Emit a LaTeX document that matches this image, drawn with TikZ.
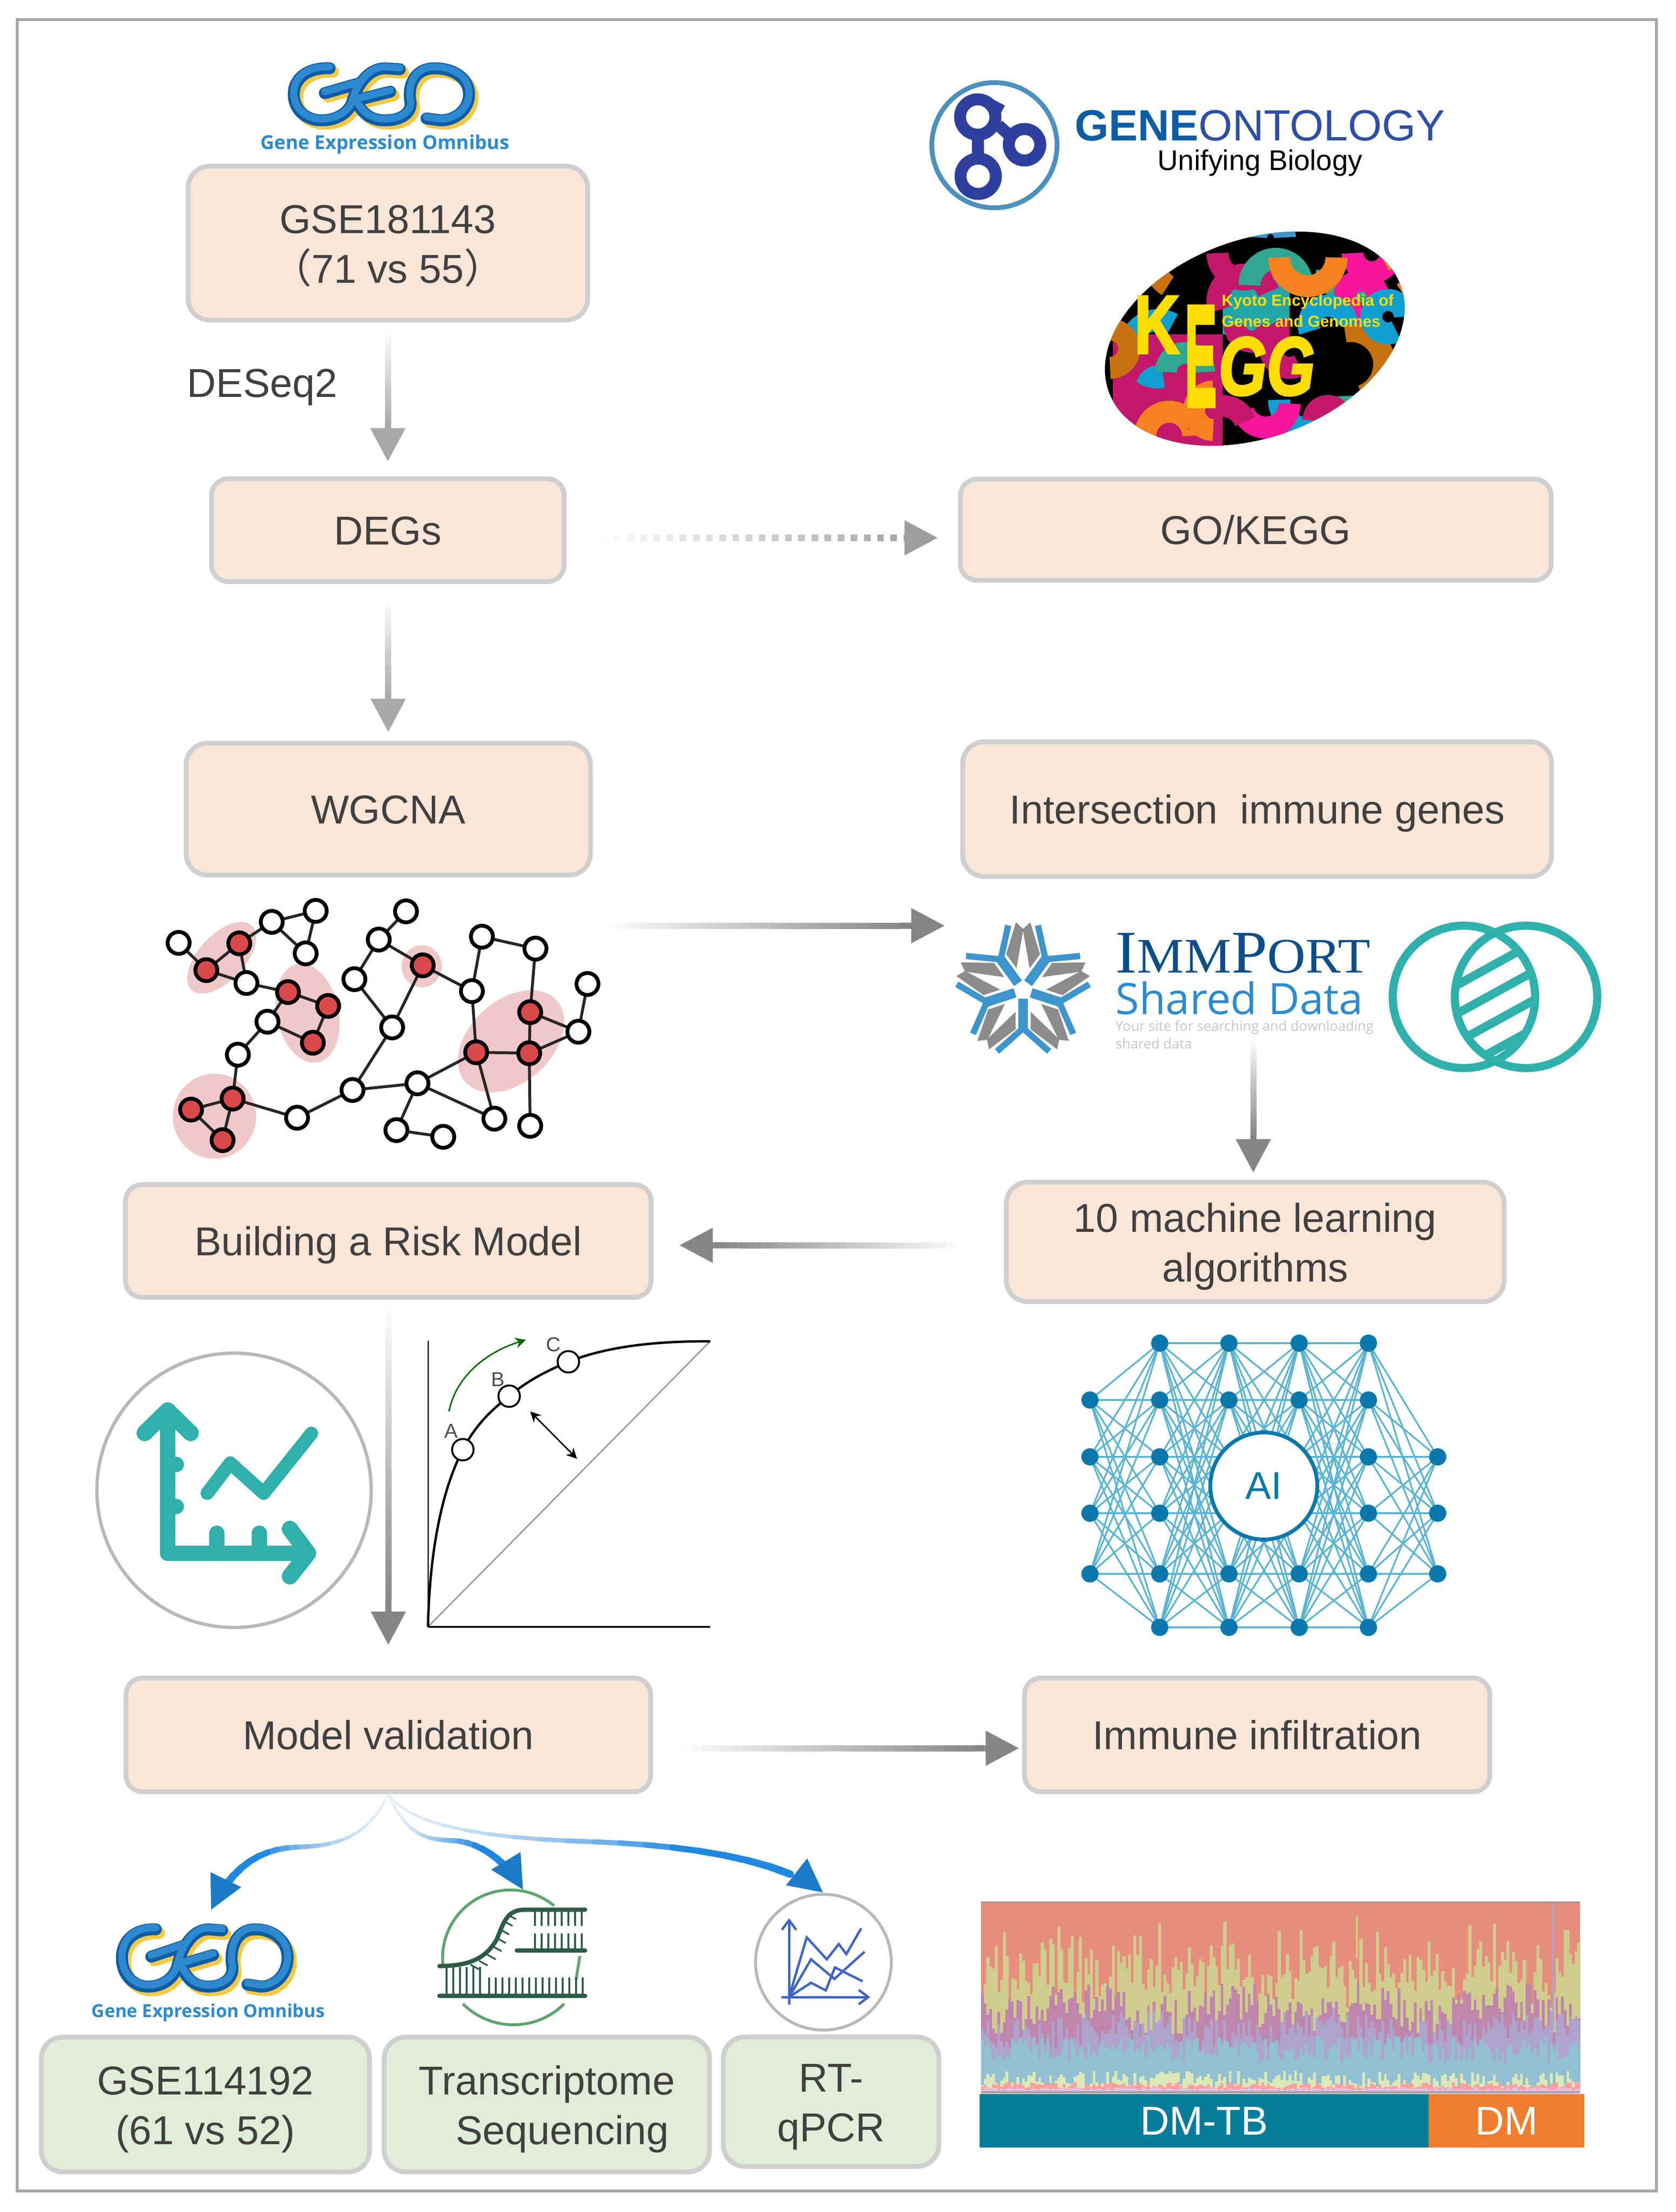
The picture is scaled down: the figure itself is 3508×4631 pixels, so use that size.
\documentclass[tikz,border=0pt]{standalone}
\usepackage{fontspec}
\setmainfont{Liberation Sans}
\newfontfamily\cjk{Noto Sans CJK SC}
\newfontfamily\serifname{Liberation Serif}
\newfontfamily\opensans{Open Sans}
\newfontfamily\fatsans[FakeBold=3]{Liberation Sans}
\usetikzlibrary{arrows.meta,calc,shapes.geometric}

\definecolor{boxline}{HTML}{CFCFCF}
\definecolor{peach}{HTML}{FAE6D8}
\definecolor{leaf}{HTML}{E2EDD8}
\definecolor{ink}{HTML}{404040}
\definecolor{arrowgray}{HTML}{A8A8A8}
\definecolor{arrowdark}{HTML}{858585}
\definecolor{teal}{HTML}{2FB0AC}
\definecolor{paleblue}{HTML}{E4EEF8}
\definecolor{arcblue}{HTML}{1E88E0}
\definecolor{netdark}{HTML}{0A78AC}
\definecolor{netline}{HTML}{5BB3D2}
\definecolor{hub}{HTML}{D9494A}
\definecolor{blob}{HTML}{F0C8C8}
\definecolor{geoblue}{HTML}{0E5CA3}
\definecolor{geolight}{HTML}{2D8ACF}
\definecolor{geoyellow}{HTML}{F6C843}
\definecolor{gotext}{HTML}{2F4EA5}
\definecolor{godark}{HTML}{2F3F9E}
\definecolor{kmag}{HTML}{C2186B}
\definecolor{korange}{HTML}{F58220}
\definecolor{kteal}{HTML}{2FA88F}
\definecolor{kbrown}{HTML}{C8720F}
\definecolor{kcyan}{HTML}{0FA0D0}
\definecolor{kpink}{HTML}{F5169B}
\definecolor{kyellow}{HTML}{FFDD00}
\definecolor{fork}{HTML}{3E95CC}
\definecolor{rnagreen}{HTML}{5DA56D}
\definecolor{rnadark}{HTML}{2B5C47}
\definecolor{pcrblue}{HTML}{3F66C4}
\definecolor{stA}{HTML}{E58E7C}
\definecolor{stB}{HTML}{D0CC8E}
\definecolor{stC}{HTML}{BF86AC}
\definecolor{stD}{HTML}{AEA3CC}
\definecolor{stE}{HTML}{90C0D2}
\definecolor{stF}{HTML}{DCE8B5}
\definecolor{stG}{HTML}{FFA0A0}
\definecolor{stH}{HTML}{E0C0E8}
\definecolor{tbbar}{HTML}{077D9B}
\definecolor{dmbar}{HTML}{EE7D2E}

\tikzset{
  box/.style={draw=boxline,line width=1mm,rounded corners=4.5mm,align=center,inner sep=0,text=ink,
    font=\fontsize{24}{30}\selectfont,execute at begin node=\rule[-5pt]{0pt}{27.4pt}},
  twoline/.style={font=\fontsize{24}{29.5}\selectfont,execute at begin node=\rule[-5pt]{0pt}{57.3pt}},
  peachbox/.style={box,fill=peach},
  leafbox/.style={box,fill=leaf},
  grayhead/.style={-{Triangle[length=7mm,width=7mm]},line width=1.3mm},
  netnode/.style={circle,fill=netdark,minimum size=3.6mm,inner sep=0},
  plainnode/.style={circle,draw=black,fill=white,line width=.8mm,minimum size=4.6mm,inner sep=0},
  rednode/.style={plainnode,fill=hub},
  geologo/.pic={
    \foreach \col/\wd/\dx/\dy in {geoyellow/2.5mm/7/7,geoblue/2.5mm/0/0,geolight/1.5mm/0/-3}{
      \begin{scope}[shift={(\dx,\dy)}]
      \draw[\col,line width=\wd,line cap=round] (88,12) .. controls (40,10) and (13,35) .. (13,66)
        .. controls (13,100) and (40,121) .. (71,121) .. controls (100,121) and (125,108) .. (135,85)
        .. controls (142,55) and (165,12) .. (205,12) -- (235,14);
      \draw[\col,line width=\wd,line cap=round] (78,64) -- (148,44);
      \draw[\col,line width=\wd,line cap=round] (151,77) -- (215,61);
      \draw[\col,line width=\wd,line cap=round] (148,89) .. controls (160,108) and (175,121) .. (205,121)
        .. controls (235,121) and (258,108) .. (258,85) .. controls (250,50) and (265,12) .. (308,12)
        .. controls (350,12) and (380,35) .. (380,66) .. controls (380,100) and (350,121) .. (321,121) -- (291,117);
      \end{scope}
    }
  },
}

\newcommand{\fadearrow}[3][arrowgray]{
  \coordinate (fs) at (#2);
  \coordinate (fe) at (#3);
  \coordinate (ft) at ($(fe)!7.2mm!(fs)$);
  \foreach \i in {1,...,30}{
    \pgfmathtruncatemacro\pct{\i*100/30}
    \draw[line width=1.3mm,#1!\pct!white] ($(fs)!{(\i-1)/30}!(ft)$) -- ($(fs)!{\i/30}!(ft)$);
  }
  \draw[grayhead,#1] (ft) -- (fe);
}
\newcommand{\dotarrow}[2]{
  \coordinate (fs) at (#1);
  \coordinate (fe) at (#2);
  \coordinate (ft) at ($(fe)!7.2mm!(fs)$);
  \foreach \i in {1,...,23}{
    \pgfmathtruncatemacro\pct{\i*100/23}
    \draw[line width=1.4mm,arrowgray!\pct!white] ($(fs)!{(\i-1)/23}!(ft)$) -- ($(fs)!{(\i-.5)/23}!(ft)$);
  }
  \draw[grayhead,arrowdark!80!white] (ft) -- (fe);
}
% #1 start, #2 #3 controls, #4 middle, #5 #6 controls, #7 tip
\newcommand{\bluearrow}[7]{
  \coordinate (ba) at (#1);
  \coordinate (bm) at (#4);
  \coordinate (bz) at (#7);
  \path (ba) .. controls (#2) and (#3) .. (bm)
    coordinate[pos=0] (q0) coordinate[pos=.1] (q1) coordinate[pos=.2] (q2) coordinate[pos=.3] (q3)
    coordinate[pos=.4] (q4) coordinate[pos=.5] (q5) coordinate[pos=.6] (q6) coordinate[pos=.7] (q7)
    coordinate[pos=.8] (q8) coordinate[pos=.9] (q9) coordinate[pos=1] (q10);
  \path (bm) .. controls (#5) and (#6) .. (bz)
    coordinate[pos=.1] (q11) coordinate[pos=.2] (q12) coordinate[pos=.3] (q13) coordinate[pos=.4] (q14)
    coordinate[pos=.5] (q15) coordinate[pos=.6] (q16) coordinate[pos=.7] (q17) coordinate[pos=.8] (q18);
  \foreach \i in {1,...,18}{
    \pgfmathtruncatemacro\j{\i-1}
    \pgfmathtruncatemacro\pct{min(100,\i*\i/2)}
    \pgfmathsetmacro\wd{.3+\i*.07}
    \draw[line width=\wd mm,line cap=round,arcblue!\pct!paleblue] (q\j) -- (q\i);
  }
  \coordinate (bt) at ($(bz)!7mm!(#6)$);
  \draw[arcblue!90!black,-{Triangle[length=7mm,width=7mm]},line width=.6mm] (bt) -- (bz);
}

\begin{document}
\begin{tikzpicture}[x=.01cm,y=-.01cm]
    \useasboundingbox (0,0) rectangle (3508,4631);
    \draw[arrowgray,line width=.6mm] (36,41) rectangle (3468,4587);

    \node[peachbox,twoline,minimum width=83.6mm,minimum height=32.2mm] (GSE) at (812,509) {GSE181143\\{\cjk（}71 vs 55{\cjk）}};
    \node[peachbox,minimum width=73.8mm,minimum height=21.5mm,rounded corners=3.5mm] (DEGs) at (812,1110) {DEGs};
    \node[peachbox,minimum width=123.6mm,minimum height=21.2mm,rounded corners=3.5mm] (GOKEGG) at (2629,1109) {GO/KEGG};
    \node[peachbox,minimum width=84.6mm,minimum height=27.6mm] (WGCNA) at (813,1694) {WGCNA};
    \node[peachbox,minimum width=123.2mm,minimum height=28.2mm] (Inter) at (2632,1694) {Intersection\ \ immune genes};
    \node[peachbox,minimum width=110mm,minimum height=23.6mm,rounded corners=3.5mm] (Risk) at (813,2598) {Building a Risk Model};
    \node[peachbox,twoline,minimum width=104.2mm,minimum height=25mm] (ML) at (2628,2600) {10 machine learning\\algorithms};
    \node[peachbox,minimum width=109.8mm,minimum height=23.8mm,rounded corners=3.5mm] (Valid) at (813,3632) {Model validation};
    \node[peachbox,minimum width=97.4mm,minimum height=23.8mm,rounded corners=3.5mm] (Immune) at (2632,3632) {Immune infiltration};
    \node[leafbox,twoline,minimum width=68.7mm,minimum height=28.2mm] (GSEb) at (430,4406) {GSE114192\\(61 vs 52)};
    \node[leafbox,twoline,align=right,minimum width=68.1mm,minimum height=28.2mm] (Trans) at (1145,4406) {Transcriptome\\Sequencing\hspace*{3.7pt}};
    \node[leafbox,twoline,minimum width=45.1mm,minimum height=27.1mm] (RT) at (1740,4400) {RT-\\qPCR};
    \node[text=ink,font=\fontsize{24}{30}\selectfont,inner sep=0] (Tool) at (549,811) {DESeq2};

    \coordinate (NetOut) at (1271,1938);
    \coordinate (ImmIn) at (1978,1938);
    \coordinate (LogoOut) at (2624,2175);
    \coordinate (MLIn) at (2624,2455);

    \fadearrow{[yshift=-2mm]GSE.south}{[yshift=3.1mm]DEGs.north}
    \fadearrow{[yshift=-3.5mm]DEGs.south}{[yshift=1.8mm]WGCNA.north}
    \dotarrow{[xshift=7.2mm,yshift=-1.6mm]DEGs.east}{[xshift=-4.2mm,yshift=-1.7mm]GOKEGG.west}
    \fadearrow[arrowdark]{NetOut}{ImmIn}
    \fadearrow[arrowdark]{LogoOut}{MLIn}
    \fadearrow[arrowdark]{[xshift=-8.6mm,yshift=-.8mm]ML.west}{[xshift=5.4mm,yshift=-.9mm]Risk.east}
    \fadearrow[arrowdark]{[yshift=-1.9mm]Risk.south}{[yshift=6.4mm]Valid.north}
    \fadearrow[arrowdark]{[xshift=5.9mm,yshift=-2.8mm]Valid.east}{[xshift=-.6mm,yshift=-2.8mm]Immune.west}

    \bluearrow{Valid.south}{770,3850}{700,3865}{622,3867}{550,3870}{490,3900}{442,3998}
    \bluearrow{Valid.south}{850,3840}{890,3852}{945,3853}{1000,3855}{1055,3889}{1095,3956}
    \bluearrow{Valid.south}{860,3830}{1050,3850}{1244,3856}{1420,3862}{1630,3889}{1723,3962}

    % top logos
    \pic at (602,131) {geologo};
    \node[text=geolight,font=\opensans\bfseries\fontsize{11.4}{14}\selectfont,inner sep=0] (GeoName) at (806,302) {Gene Expression Omnibus};
    \pic[xscale=.945,yscale=1.1] at (243,4026) {geologo};
    \node[text=geolight,font=\opensans\bfseries\fontsize{10.7}{14}\selectfont,inner sep=0] (GeoNameb) at (436,4214) {Gene Expression Omnibus};

    \node[circle,draw=fork!80!gray,line width=1mm,minimum size=26.2mm,inner sep=0] (GoRing) at (2082,304) {};
    \draw[godark,line width=2.5mm] (2047,245) circle[radius=3.7mm] (2048,369) circle[radius=3.7mm] (2145,303) circle[radius=3.3mm];
    \draw[godark,line width=2.5mm] (2047,282) -- (2048,332) (2075,220) -- (2098,232) (2090,262) -- (2112,282);
    \node[inner sep=0,font=\fontsize{26}{30}\selectfont] (GoName) at (2638,263) {\textcolor{geoblue}{\textbf{GENE}}\textcolor{gotext}{ONTOLOGY}};
    \node[inner sep=0,font=\fontsize{17}{20}\selectfont] (GoSub) at (2638,341) {Unifying Biology};

    \begin{scope}
      \clip (2627,709) ellipse[x radius=32.5mm,y radius=20.7mm,rotate=20];
      \fill[black] (2300,470) rectangle (2960,950);
      \fill[kmag] (2330,700) rectangle (2560,940);
      \fill[kteal!60!kcyan] (2560,560) rectangle (2700,700);
      \foreach \cx/\cy/\r/\sa/\ea/\col in {2604/530/5.5/180/340/kmag,2604/630/5.5/20/200/kmag,2660/497/3/0/180/fork,
        2671/597/5.5/0/180/kteal,2470/555/5/240/60/kbrown,2828/763/7/-70/100/kbrown,2425/730/6/60/280/kcyan,
        2425/812/7/200/20/kmag,2738/837/6/180/360/kcyan,2650/845/5/200/360/kpink,2448/912/5/0/180/korange,
        2828/564/5/180/340/kteal,2872/530/4/180/360/kpink,2917/580/4/-60/120/korange,2850/622/3.5/0/270/kpink,
        2861/829/4.5/180/330/kteal,2481/779/4/0/180/kteal,2324/730/4/-90/90/kbrown,2906/663/3.5/0/300/kcyan,
        2560/900/5/20/180/kmag,2700/730/4/90/300/kmag,2780/680/4/0/200/kcyan,2620/680/3.5/180/360/kmag,
        2540/860/4/90/270/korange,2780/880/3/0/180/kmag}{
        \draw[\col,line width=4.6mm] (\cx,\cy) ++(\sa:\r mm) arc[start angle=\sa,end angle=\ea,radius=\r mm];
      }
      \draw[korange,line width=4.6mm] (2738,539) ++(180:6mm) arc[start angle=180,end angle=360,radius=6mm];
    \end{scope}
    \node[inner sep=0,text=kyellow,font=\fatsans\bfseries\fontsize{49}{50}\selectfont] (KeggK) at (2422,680) {\scalebox{.76}[1]{K}};
    \node[inner sep=0,text=kyellow,font=\fatsans\bfseries\fontsize{86}{90}\selectfont] (KeggE) at (2514,746) {\scalebox{.33}[1]{E}};
    \node[inner sep=0,text=kyellow,font=\fatsans\bfseries\itshape\fontsize{49}{50}\selectfont] (KeggG) at (2652,767) {\scalebox{.75}[1]{GG}};
    \node[inner sep=0,text=kyellow,align=left,font=\bfseries\fontsize{9.5}{12.5}\selectfont] (KeggT) at (2738,651) {Kyoto Encyclopedia of\\Genes and Genomes};

    % module network
    \fill[blob] (464,2005) ellipse[x radius=9.2mm,y radius=4.8mm,rotate=47];
    \fill[blob] (644,2121) ellipse[x radius=6.5mm,y radius=10.5mm,rotate=12];
    \fill[blob] (449,2337) ellipse[x radius=8.7mm,y radius=8.9mm];
    \fill[blob] (883,2023) ellipse[x radius=4.2mm,y radius=4.4mm];
    \fill[blob] (1070,2180) ellipse[x radius=12.8mm,y radius=8.6mm,rotate=42];
    \foreach \n/\x/\y in {a1/374/1974,a2/569/1930,a3/661/1907,a4/640/1996,a5/516/2058,a6/560/2139,a7/498/2208,
      a8/622/2340,a9/738/2282,a10/874/2268,a11/830/2366,a12/928/2380,a13/1035/2342,a14/1110/2357,a15/821/2151,
      a16/742/2050,a17/793/1967,a18/850/1908,a19/1009/1961,a20/1121/1986,a21/988/2075,a22/1230/2060,a23/1211/2160}{
      \coordinate (\n) at (\x,\y);
    }
    \foreach \n/\x/\y in {r1/501/1975,r2/432/2031,r3/603/2077,r4/687/2106,r5/655/2183,r6/487/2300,r7/400/2323,
      r8/466/2387,r9/885/2021,r10/1110/2119,r11/1108/2205,r12/997/2203}{
      \coordinate (\n) at (\x,\y);
    }
    \foreach \p/\q in {a1/r2,r2/r1,r1/a2,a2/a3,a3/a4,a4/a2,r1/a5,r2/a5,a5/r3,r3/r4,r4/r5,r5/a6,a6/r3,a6/a7,a7/r6,
      r6/r7,r7/r8,r8/r6,r6/a8,a8/a9,a9/a10,a9/a15,a15/a16,a16/a17,a17/a18,a17/r9,r9/a15,r9/a21,a21/a19,a19/a20,
      a20/r10,r10/r11,r10/a23,a23/a22,a23/r11,r11/r12,r12/a21,r12/a10,r12/a13,a10/a13,a10/a11,a11/a12,r11/a14}{
      \draw[line width=.6mm,black!85] (\p) -- (\q);
    }
    \foreach \n in {a1,a2,a3,a4,a5,a6,a7,a8,a9,a10,a11,a12,a13,a14,a15,a16,a17,a18,a19,a20,a21,a22,a23}{
      \node[plainnode] (dot\n) at (\n) {};
    }
    \foreach \n in {r1,r2,r3,r4,r5,r6,r7,r8,r9,r10,r11,r12}{
      \node[rednode] (dot\n) at (\n) {};
    }

    % immport logo
    \foreach \a in {270,342,54,126,198}{
      \begin{scope}[shift={(2142,2073)},rotate=\a,scale=1.05]
        \fill[black!45] (43,15) -- (78,15) -- (118,68) -- (98,72) -- cycle;
        \fill[black!45] (43,-15) -- (78,-15) -- (118,-68) -- (98,-72) -- cycle;
        \draw[fork,line width=2mm] (17,0) -- (83,0);
        \draw[fork,line width=1.3mm] (76,0) -- (122,52) (76,0) -- (122,-52);
      \end{scope}
    }
    \node[inner sep=0,anchor=west,text=geoblue!85!black,font=\serifname\fontsize{36}{38}\selectfont] (ImmName) at (2335,1996) {\scalebox{1.07}[1]{I{\fontsize{29.5}{30}\selectfont MM}P{\fontsize{29.5}{30}\selectfont ORT}}};
    \node[inner sep=0,anchor=west,text=geolight,font=\opensans\fontsize{25.7}{28}\selectfont] (ImmData) at (2335,2090) {Shared Data};
    \node[inner sep=0,anchor=north west,text=black!22,align=left,font=\opensans\fontsize{8.2}{10.5}\selectfont] (ImmSub) at (2335,2136) {Your site for searching and downloading\\shared data};

    \begin{scope}
      \clip (3065,2087) circle[radius=15.5mm];
      \clip (3195,2087) circle[radius=15.5mm];
      \foreach \s in {0,60,120,180}{
        \draw[teal,line width=1.8mm] (3000,2090+\s) -- (3300,1925+\s);
      }
    \end{scope}
    \draw[teal,line width=1.7mm] (3065,2087) circle[radius=14.9mm] (3195,2087) circle[radius=14.9mm];

    % model icon and roc curve
    \node[circle,draw=black!28,line width=.7mm,minimum size=57.4mm,inner sep=0] (TrendRing) at (490,3120) {};
    \draw[teal,line width=3.2mm,line join=round] (351,2955) -- (351,3252) -- (640,3252);
    \draw[teal,line width=3.4mm,line cap=round,line join=round] (303,3000) -- (351,2953) -- (399,3000);
    \draw[teal,line width=3.4mm,line cap=round,line join=round] (607,3201) -- (645,3252) -- (607,3300);
    \draw[teal,line width=3.2mm,line cap=round] (351,3066) -- (369,3066) (351,3154) -- (369,3154) (454,3210) -- (454,3252) (543,3210) -- (543,3252);
    \draw[teal,line width=2.8mm,line cap=round,line join=round] (434,3126) -- (482,3063) -- (552,3126) -- (652,3001);

    \coordinate (RocO) at (896,3406);
    \coordinate (RocX) at (1487,3406);
    \coordinate (RocY) at (896,2807);
    \coordinate (RocEnd) at (1487,2808);
    \draw[line width=.3mm,black!80] (RocY) -- (RocO);
    \draw[line width=.4mm] (RocO) -- (RocX);
    \draw[line width=.25mm,black!45] (RocO) -- (RocEnd);
    \draw[line width=.5mm] (RocO) .. controls (900,3230) and (930,3110) .. (969,3035) .. controls (995,2985) and (1025,2955) .. (1066,2923)
      .. controls (1105,2890) and (1145,2870) .. (1190,2851) .. controls (1280,2815) and (1390,2808) .. (RocEnd);
    \node[plainnode,line width=.4mm,minimum size=4.5mm] (PtA) at (969,3035) {};
    \node[plainnode,line width=.4mm,minimum size=4.5mm] (PtB) at (1066,2923) {};
    \node[plainnode,line width=.4mm,minimum size=4.5mm] (PtC) at (1190,2851) {};
    \node[inner sep=0,text=black!70,font=\fontsize{12}{14}\selectfont] (LabA) at (945,2996) {A};
    \node[inner sep=0,text=black!70,font=\fontsize{12}{14}\selectfont] (LabB) at (1043,2888) {B};
    \node[inner sep=0,text=black!70,font=\fontsize{12}{14}\selectfont] (LabC) at (1159,2815) {C};
    \coordinate (GainA) at (940,2955);
    \coordinate (GainB) at (1101,2805);
    \draw[-{Stealth[length=2.2mm,width=2.2mm]},line width=.3mm,green!40!black] (GainA) .. controls (955,2880) and (1020,2830) .. (GainB);
    \coordinate (GapA) at (1110,2955);
    \coordinate (GapB) at (1208,3054);
    \draw[{Stealth[length=2.2mm,width=2.2mm]}-{Stealth[length=2.2mm,width=2.2mm]},line width=.3mm] (GapA) -- (GapB);

    % neural net
    \foreach \c/\x in {1/2282,2/2428,3/2573,4/2720,5/2865,6/3010}{
      \foreach \r/\y in {1/2812,2/2931,3/3050,4/3168,5/3295,6/3407}{
        \coordinate (n\c\r) at (\x,\y);
      }
    }
    \foreach \r in {2,...,5}{
      \foreach \s in {1,...,6}{
        \draw[netline,line width=.35mm] (n1\r) -- (n2\s);
      }
    }
    \foreach \a/\b in {2/3,3/4,4/5}{
      \foreach \r in {1,...,6}{
        \foreach \s in {1,...,6}{
          \draw[netline,line width=.35mm] (n\a\r) -- (n\b\s);
        }
      }
    }
    \foreach \r in {1,...,6}{
      \foreach \s in {3,4,5}{
        \draw[netline,line width=.35mm] (n5\r) -- (n6\s);
      }
    }
    \foreach \c/\r in {1/2,1/3,1/4,1/5,2/1,2/2,2/3,2/4,2/5,2/6,3/1,3/2,3/5,3/6,4/1,4/2,4/5,4/6,5/1,5/2,5/3,5/4,5/5,5/6,6/3,6/4,6/5}{
      \node[netnode] (dot\c\r) at (n\c\r) {};
    }
    \node[circle,draw=netdark,fill=white,line width=.8mm,minimum size=22.4mm,inner sep=0,text=netdark,font=\fontsize{23}{26}\selectfont] (AI) at (2646,3111) {AI};

    % rna icon
    \draw[rnagreen,line width=.6mm] (1160,3990) arc[start angle=50,end angle=188,radius=14.2mm];
    \draw[rnagreen,line width=.6mm] (969,4195) arc[start angle=225,end angle=315,radius=15mm];
    \draw[rnagreen,line width=.6mm] (1214,4095) -- (1206,4145);
    \draw[rnadark,line width=.9mm,line cap=round] (920,4116) .. controls (990,4116) and (1020,4095) .. (1040,4060) .. controls (1055,4025) and (1060,3998) .. (1100,3998) -- (1225,3998);
    \draw[rnadark,line width=.9mm,line cap=round] (1082,4083) -- (1225,4083) (920,4178) -- (1225,4178);
    \foreach \x in {1120,1134,...,1220}{
      \draw[rnadark,line width=.35mm] (\x,4002) -- (\x,4032) (\x,4048) -- (\x,4080);
    }
    \foreach \x in {1024,1038,...,1220}{
      \draw[rnadark,line width=.35mm] (\x,4140) -- (\x,4178);
    }
    \foreach \x in {935,949,...,1010}{
      \draw[rnadark,line width=.35mm] (\x,4118) -- (\x,4178);
    }
    \foreach \x/\y in {985/4113,1003/4105,1020/4092,1032/4075,1041/4058,1048/4040,1055/4022,1062/4008}{
      \draw[rnadark,line width=.35mm] (\x,\y) -- ++(18,10);
    }

    % pcr icon
    \node[circle,draw=black!28,line width=.6mm,minimum size=28.4mm,inner sep=0] (PcrRing) at (1724,4108) {};
    \coordinate (PcrO) at (1652,4181);
    \draw[pcrblue,line width=.5mm,-{Straight Barb[length=2mm,width=3mm]}] (1652,4197) -- (1652,4016);
    \draw[pcrblue,line width=.5mm,-{Straight Barb[length=2mm,width=3mm]}] (1636,4181) -- (1822,4181);
    \draw[pcrblue,line width=.5mm] (PcrO) -- (1689,4056) -- (1731,4102) -- (1756,4070) -- (1772,4091) -- (1803,4037);
    \draw[pcrblue,line width=.5mm] (PcrO) -- (1698,4102) -- (1747,4143) -- (1810,4086);
    \draw[pcrblue,line width=.5mm] (PcrO) -- (1698,4151) -- (1729,4167) -- (1748,4119) -- (1806,4148);

    % stacked fractions
    \pgfmathsetseed{7}
    \fill[stA] (2054,3982) rectangle (3308,4379);
    \foreach \i in {0,...,219}{
      \pgfmathsetmacro\xl{2054+\i*5.7}
      \pgfmathsetmacro\xr{\xl+6.2}
      \pgfmathsetmacro\ya{4135+120*(rnd-.5)+20*sin(\i*11)-55*(rnd>.8)}
      \pgfmathsetmacro\yb{4205+90*(rnd-.5)+18*sin(\i*7)}
      \pgfmathsetmacro\yc{4250+70*(rnd-.5)+12*sin(\i*5)}
      \pgfmathsetmacro\yd{4290+55*(rnd-.5)}
      \pgfmathsetmacro\ye{4352+34*(rnd-.5)}
      \pgfmathsetmacro\yf{4366+14*(rnd-.5)}
      \pgfmathsetmacro\yg{4373+7*(rnd-.5)}
      \fill[stB] (\xl,\ya) rectangle (\xr,4379);
      \fill[stC] (\xl,\yb) rectangle (\xr,4379);
      \fill[stD] (\xl,\yc) rectangle (\xr,4379);
      \fill[stE] (\xl,\yd) rectangle (\xr,4379);
      \fill[stF] (\xl,\ye) rectangle (\xr,4379);
      \fill[stG] (\xl,\yf) rectangle (\xr,4379);
      \fill[stH] (\xl,\yg) rectangle (\xr,4379);
    }
    \fill[stB] (2839,4011) rectangle (2843,4100);
    \fill[stD] (3250,3985) rectangle (3254,4250);
    \draw[line width=.25mm,black!45] (2054,3982) -- (3308,3982);
    \draw[line width=.5mm,black!35] (2054,4380) -- (3308,4380);
    \node[fill=tbbar,text=white,minimum width=94mm,minimum height=11.2mm,inner sep=0,font=\fontsize{24}{28}\selectfont] (TB) at (2521,4440) {DM-TB};
    \node[fill=dmbar,text=white,minimum width=32.6mm,minimum height=11.2mm,inner sep=0,font=\fontsize{24}{28}\selectfont] (DM) at (3154,4440) {DM};
\end{tikzpicture}
\end{document}
